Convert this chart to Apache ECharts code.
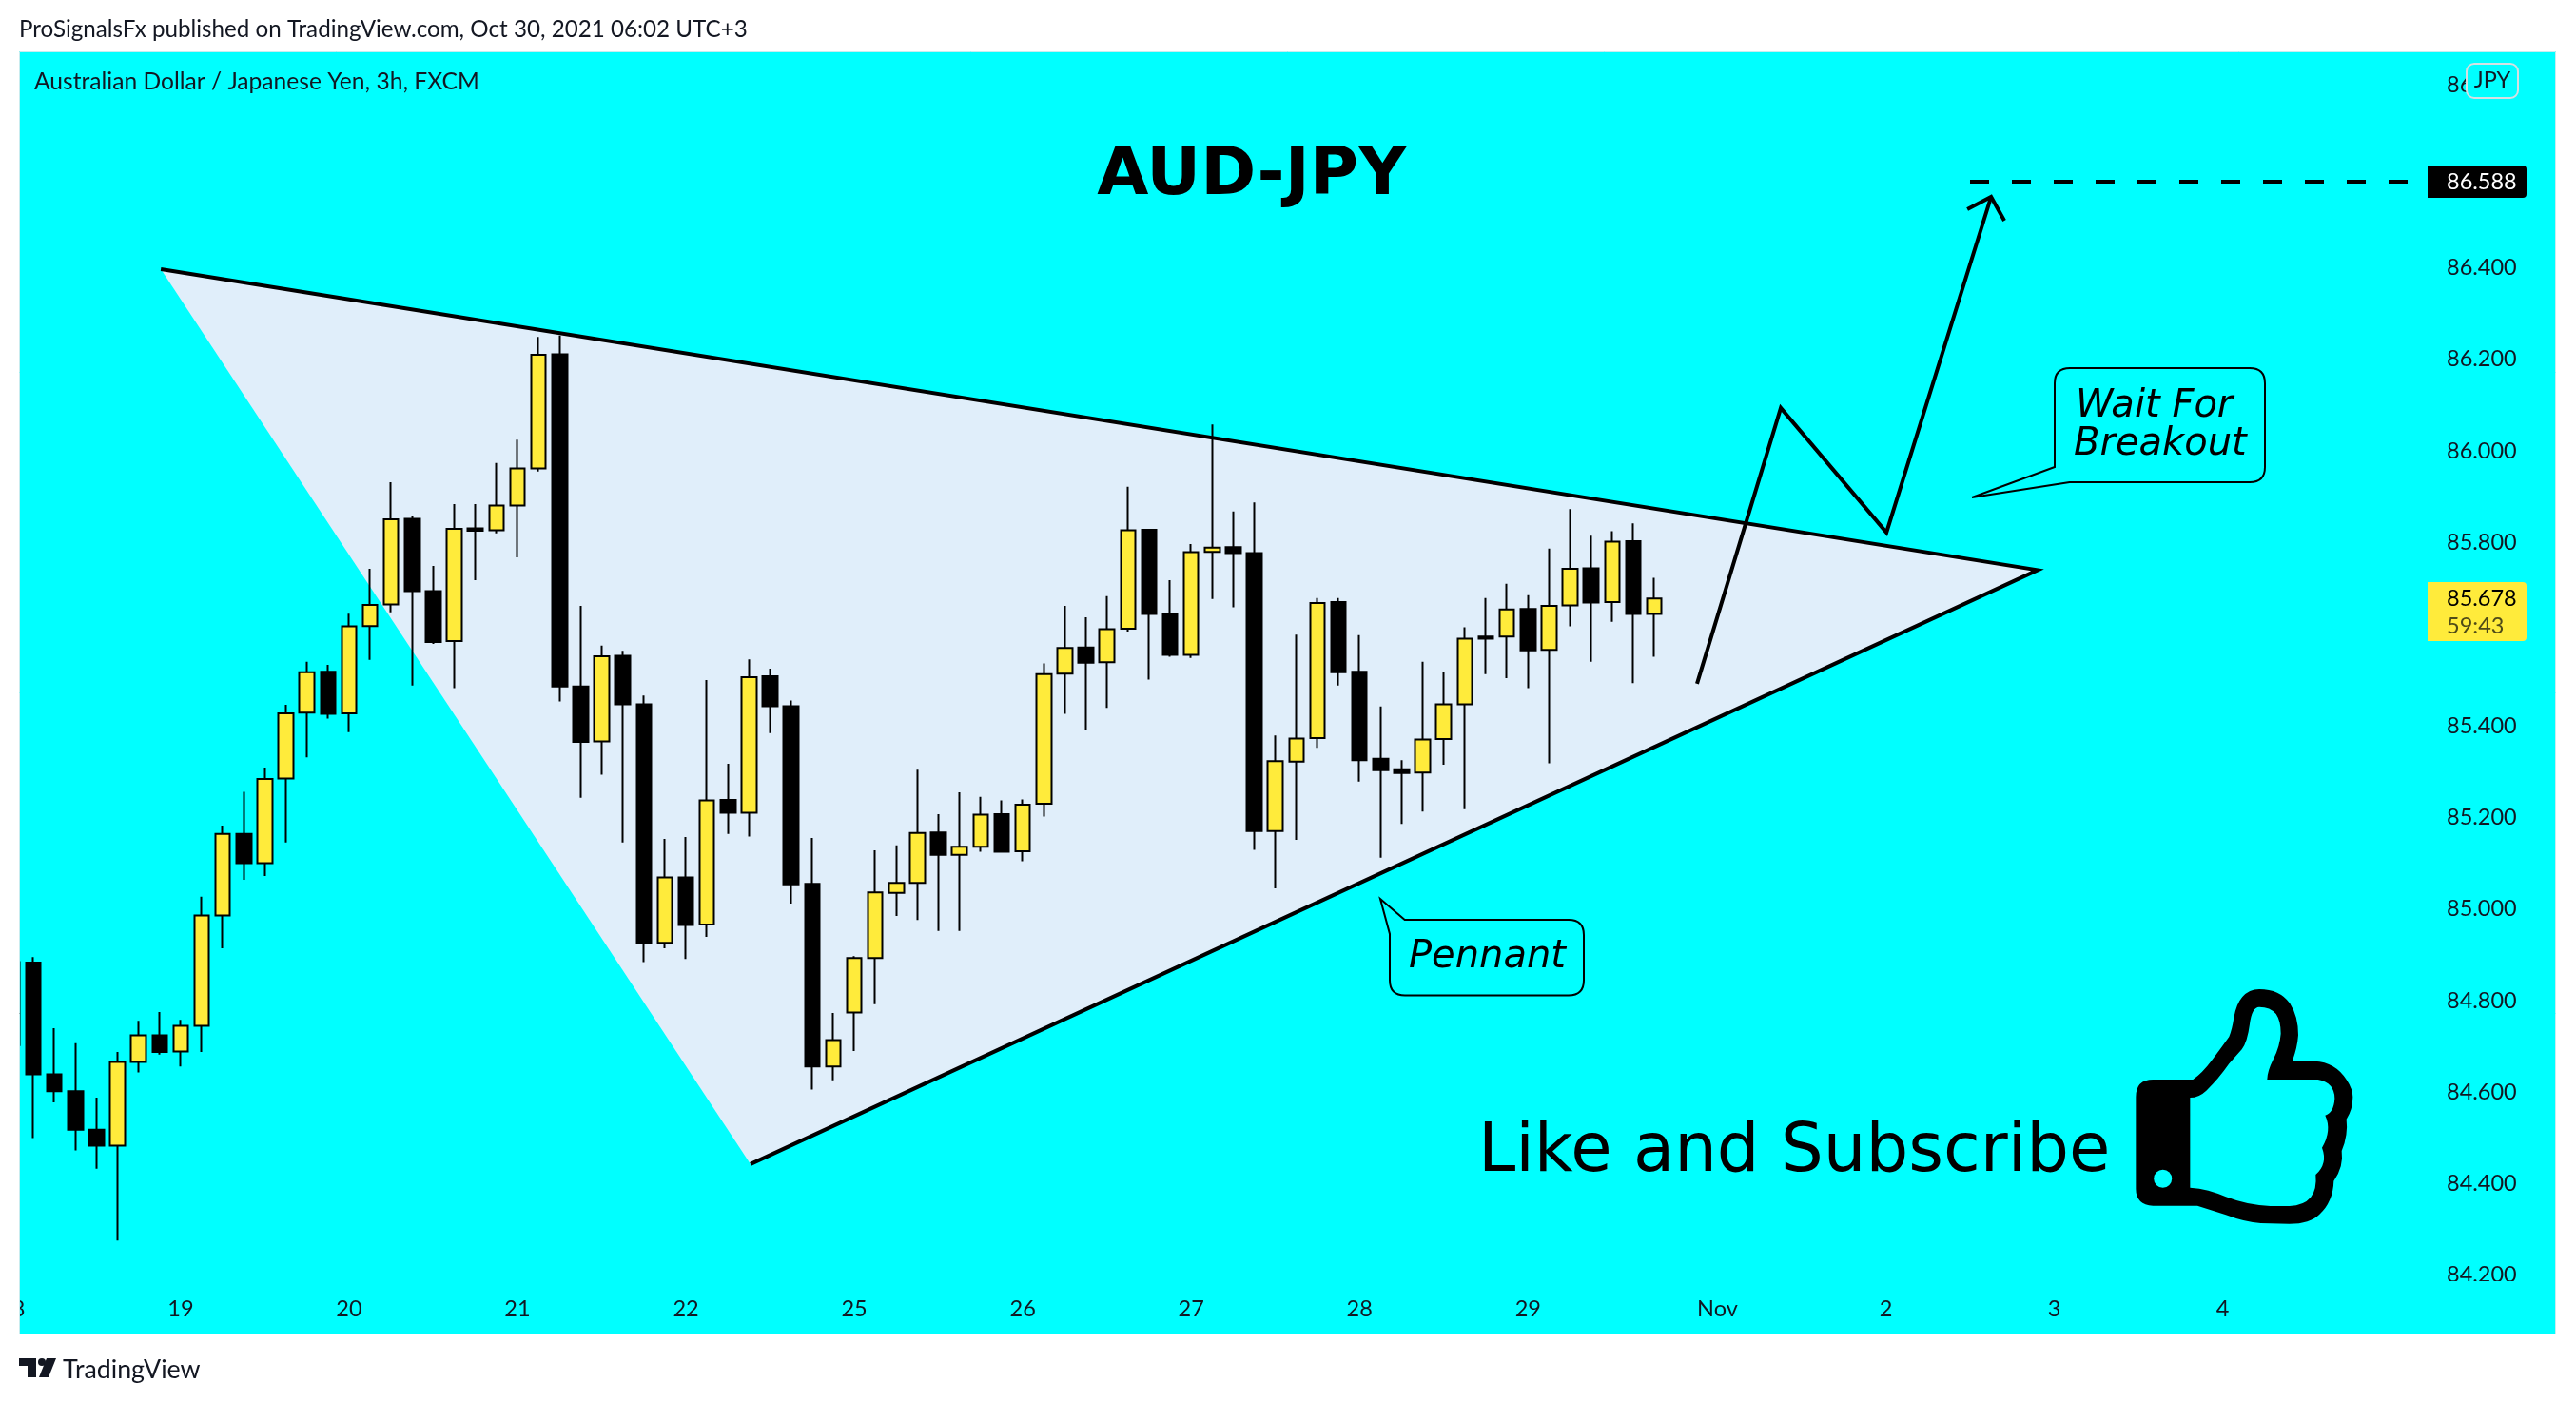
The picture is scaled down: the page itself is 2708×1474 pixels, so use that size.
<!DOCTYPE html>
<html>
<head>
<meta charset="utf-8">
<style>html,body{margin:0;padding:0;background:#fff}#c{width:2708px;height:1474px}</style>
<script src="https://cdn.jsdelivr.net/npm/echarts@6/dist/echarts.min.js"></script>
</head>
<body>
<div id="c"></div>
<script>
// Candles: one slot = 3 hours
const firstSlot = -1;
const opens = [84.884,84.883,84.639,84.602,84.518,84.483,84.666,84.724,84.689,84.745,84.986,85.164,85.100,85.285,85.429,85.518,85.427,85.618,85.665,85.852,85.694,85.585,85.831,85.827,85.881,85.962,86.211,85.486,85.366,85.553,85.447,84.926,85.069,84.966,85.238,85.210,85.508,85.443,85.055,84.656,84.774,84.893,85.035,85.057,85.167,85.118,85.136,85.207,85.126,85.230,85.514,85.571,85.539,85.612,85.828,85.645,85.555,85.780,85.790,85.777,85.170,85.322,85.373,85.670,85.518,85.328,85.305,85.298,85.371,85.447,85.595,85.595,85.655,85.566,85.663,85.744,85.670,85.803,85.644];
const closes = [84.703,84.639,84.602,84.518,84.483,84.666,84.724,84.688,84.745,84.986,85.164,85.100,85.284,85.427,85.517,85.426,85.617,85.664,85.851,85.694,85.583,85.830,85.826,85.881,85.962,86.210,85.486,85.365,85.552,85.447,84.926,85.069,84.965,85.237,85.210,85.506,85.443,85.054,84.656,84.714,84.893,85.036,85.057,85.166,85.118,85.136,85.206,85.125,85.228,85.513,85.570,85.538,85.611,85.827,85.644,85.555,85.779,85.789,85.777,85.170,85.323,85.372,85.668,85.517,85.325,85.303,85.297,85.370,85.447,85.590,85.590,85.654,85.565,85.662,85.743,85.669,85.802,85.644,85.678];
const lows = [84.650,84.500,84.578,84.473,84.433,84.276,84.643,84.682,84.656,84.688,84.914,85.064,85.072,85.145,85.331,85.416,85.386,85.544,85.648,85.488,85.579,85.482,85.718,85.820,85.768,85.955,85.453,85.243,85.293,85.145,84.884,84.914,84.891,84.939,85.164,85.158,85.384,85.012,84.606,84.626,84.690,84.792,84.985,84.976,84.952,84.952,85.125,85.125,85.104,85.202,85.426,85.390,85.439,85.606,85.501,85.551,85.548,85.677,85.659,85.129,85.045,85.151,85.352,85.488,85.278,85.112,85.186,85.213,85.315,85.218,85.513,85.504,85.482,85.318,85.617,85.540,85.627,85.493,85.551];
const highs = [84.900,84.895,84.740,84.707,84.588,84.688,84.756,84.775,84.758,85.027,85.182,85.256,85.309,85.446,85.540,85.533,85.645,85.743,85.932,85.859,85.749,85.884,85.884,85.974,86.025,86.249,86.252,85.662,85.575,85.564,85.466,85.153,85.157,85.500,85.317,85.545,85.525,85.455,85.155,84.773,84.897,85.128,85.139,85.304,85.207,85.255,85.245,85.237,85.239,85.536,85.662,85.637,85.683,85.922,85.830,85.718,85.797,86.058,85.868,85.888,85.379,85.599,85.679,85.679,85.598,85.442,85.325,85.540,85.517,85.615,85.679,85.710,85.685,85.787,85.873,85.815,85.825,85.842,85.723];

// Axis ticks
const priceTicks = [84.2,84.4,84.6,84.8,85.0,85.2,85.4,85.6,85.8,86.0,86.2,86.4,86.6,86.8];
const daySlots = [-1,7,15,23,31,39,47,55,63,71,80,88,96,104];
const dayLabels = ['18','19','20','21','22','25','26','27','28','29','Nov','2','3','4'];

// Drawings, in slot / price units. Pennant corners: far left, bottom, apex
const pennantSlots = [6.06,34.07,95.21];
const pennantPrices = [86.397,84.443,85.740];
const pennantEdgeOrder = [0,2,1];
const arrowSlots = [79.03,83.01,88.03,93.00];
const arrowPrices = [85.492,86.094,85.822,86.555];
const arrowHeadSlots = [91.87,93.00,93.63];
const arrowHeadPrices = [86.528,86.555,86.503];
const targetSlots = [92.00,112.79];
const targetPrices = [86.588,86.588];
const lastPriceText = '85.678';
const targetText = '86.588';

const BG='#00FFFF', YEL='#FFEB3B', INK='#131722';
const UI='Lato, "Noto Sans", sans-serif', DJ='"DejaVu Sans", sans-serif';

const candles = opens.map((o,i)=>[i+firstSlot,o,closes[i],lows[i],highs[i]]);
const pairs = (xs,ys)=>xs.map((x,i)=>[x,ys[i]]);
const lineS = (data,width,dash,z)=>({type:'line',data,showSymbol:false,symbol:'none',silent:true,z:z||5,clip:false,
  lineStyle:{color:'#000',width,type:dash||'solid',cap:'butt',join:'miter'}});

const txt=(x,y,text,font,size,color,extra)=>({type:'text',x,y,z:60,silent:true,
  style:Object.assign({text,fill:color,fontFamily:font,fontSize:size,verticalAlign:'middle',align:'left'},extra||{})});

const THUMB_OUT='M136 460Q136 405 190 405L316 405Q345 385 375 345Q405 305 430 270Q440 245 445 210Q460 122 525 120Q590 120 622 165Q648 205 648 265Q645 305 630 345L700 347Q765 350 800 405Q820 435 820 460Q820 500 800 530Q806 580 785 630Q792 680 760 725Q758 790 715 830Q685 860 620 860L530 858Q480 855 420 832L330 803L190 803Q136 800 136 750Z';
const THUMB_IN='M307 462Q335 462 358 440Q395 405 430 355L470 310Q488 285 495 230Q502 176 525 176Q560 176 578 198Q593 220 593 260Q590 300 570 340Q550 380 550 405L710 405Q763 415 763 465Q760 510 733 518Q755 565 723 620Q742 670 703 705Q712 800 620 804L560 804Q490 802 420 775Q365 750 307 746Z';
const CALL_WAIT='M2176 387L2365 387Q2381 387 2381 403L2381 491Q2381 507 2365 507L2175.6 507L2073 523L2160 491L2160 403Q2160 387 2176 387Z';
const CALL_PENNANT='M1451 945L1476.7 967L1649 967Q1665 967 1665 983L1665 1030.5Q1665 1046.5 1649 1046.5L1477 1046.5Q1461 1046.5 1461 1030.5L1461 982Z';

const graphics = [
  {type:'rect',z:50,silent:true,shape:{x:0,y:0,width:2708,height:54},style:{fill:'#fff'}},
  {type:'rect',z:50,silent:true,shape:{x:0,y:1403,width:2708,height:71},style:{fill:'#fff'}},
  {type:'rect',z:50,silent:true,shape:{x:0,y:0,width:20,height:1474},style:{fill:'#fff'}},
  {type:'rect',z:50,silent:true,shape:{x:2687,y:0,width:21,height:1474},style:{fill:'#fff'}},
  {type:'rect',z:51,silent:true,shape:{x:20.5,y:54.5,width:2666,height:1348},style:{fill:'none',stroke:'#c8ecef',lineWidth:1}},
  {type:'rect',z:20,silent:true,shape:{x:2556,y:1347,width:120,height:14},style:{fill:BG}},
  txt(20,31,'ProSignalsFx published on TradingView.com, Oct 30, 2021 06:02 UTC+3',UI,24.2,INK),
  txt(36,86,'Australian Dollar / Japanese Yen, 3h, FXCM',UI,24.6,INK),
  txt(66,1440,'TradingView',UI,26.8,INK),
  {type:'polygon',z:60,silent:true,shape:{points:[[20,1428],[38,1428],[38,1448],[29,1448],[29,1436],[20,1436]]},style:{fill:INK}},
  {type:'circle',z:60,silent:true,shape:{cx:44,cy:1432,r:4},style:{fill:INK}},
  {type:'polygon',z:60,silent:true,shape:{points:[[49,1428],[59,1428],[51,1448],[41,1448]]},style:{fill:INK}},
  txt(1316,186,'AUD-JPY',DJ,70,'#000',{align:'center',fontWeight:'bold'}),
  txt(1554,1213,'Like and Subscribe',DJ,70.5,'#000'),
  txt(2182,428,'Wait For',DJ,40,'#000',{fontStyle:'italic'}),
  txt(2180,468,'Breakout',DJ,40,'#000',{fontStyle:'italic'}),
  txt(1481,1007,'Pennant',DJ,40,'#000',{fontStyle:'italic'}),
  {type:'rect',z:30,silent:true,shape:{x:2552,y:174,width:104,height:34,r:[0,4,4,0]},style:{fill:'#000'}},
  txt(2572,191,targetText,UI,23.5,'#fff'),
  {type:'rect',z:30,silent:true,shape:{x:2552,y:612,width:104,height:62,r:[0,4,4,0]},style:{fill:YEL}},
  txt(2572,629,lastPriceText,UI,23.5,'#000'),
  txt(2572,658,'59:43',UI,23.5,'#4f4b18'),
  {type:'rect',z:30,silent:true,shape:{x:2593,y:67,width:54,height:36,r:8},style:{fill:BG,stroke:'#d6dfe2',lineWidth:2}},
  txt(2620,84,'JPY',UI,23.5,INK,{align:'center'})
];

const chart = echarts.init(document.getElementById('c'),null,{width:2708,height:1474,renderer:'canvas'});
chart.setOption({
  animation:false,
  backgroundColor:BG,
  grid:{left:0,top:54,width:2553,height:1293,show:false,containLabel:false,outerBoundsMode:'none'},
  xAxis:{type:'value',min:-1.5816,max:113.78,position:'bottom',
    splitLine:{show:false},axisLine:{show:false},axisTick:{show:false},
    axisLabel:{customValues:daySlots,margin:17,fontFamily:UI,fontSize:23.5,color:INK,hideOverlap:false,
      formatter:v=>dayLabels[daySlots.indexOf(v)]||''}},
  yAxis:{type:'value',min:84.1873,max:86.8727,position:'right',scale:true,
    splitLine:{show:false},axisLine:{show:false},axisTick:{show:false},
    axisLabel:{customValues:priceTicks,margin:19,fontFamily:UI,fontSize:23.5,color:INK,hideOverlap:false,
      formatter:v=>v.toFixed(3)}},
  graphic:{elements:graphics},
  series:[
    {type:'custom',z:1,silent:true,clip:false,
      data:[pairs(pennantSlots,pennantPrices)[0]],encode:{x:0,y:1},
      renderItem:(p,api)=>({type:'polygon',
        shape:{points:pennantSlots.map((x,i)=>api.coord([x,pennantPrices[i]]))},
        style:{fill:'#E0EEFA'}})},
    {type:'candlestick',z:2,silent:true,barWidth:16,data:candles,encode:{x:0,y:[1,2,3,4]},
      itemStyle:{color:YEL,color0:'#000',borderColor:'#000',borderColor0:'#000',borderWidth:2}},
    lineS(pennantEdgeOrder.map(k=>[pennantSlots[k],pennantPrices[k]]),4),
    lineS(pairs(arrowSlots,arrowPrices),4),
    lineS(pairs(arrowHeadSlots,arrowHeadPrices),4),
    lineS(pairs(targetSlots,targetPrices),4,[20,24]),
    {type:'custom',z:30,silent:true,clip:false,
      data:[pairs(pennantSlots,pennantPrices)[0]],encode:{x:0,y:1},
      renderItem:()=>({type:'group',children:[
        {type:'path',x:2200,y:1000,scaleX:1/3,scaleY:1/3,z2:1,shape:{pathData:THUMB_OUT},style:{fill:'#000'}},
        {type:'path',x:2200,y:1000,scaleX:1/3,scaleY:1/3,z2:2,shape:{pathData:THUMB_IN},style:{fill:BG}},
        {type:'circle',z2:2,shape:{cx:2273.7,cy:1239.3,r:9.5},style:{fill:BG}},
        {type:'path',shape:{pathData:CALL_WAIT},style:{fill:'none',stroke:'#000',lineWidth:2}},
        {type:'path',shape:{pathData:CALL_PENNANT},style:{fill:'none',stroke:'#000',lineWidth:2}}
      ]})}
  ]
});
</script>
</body>
</html>
